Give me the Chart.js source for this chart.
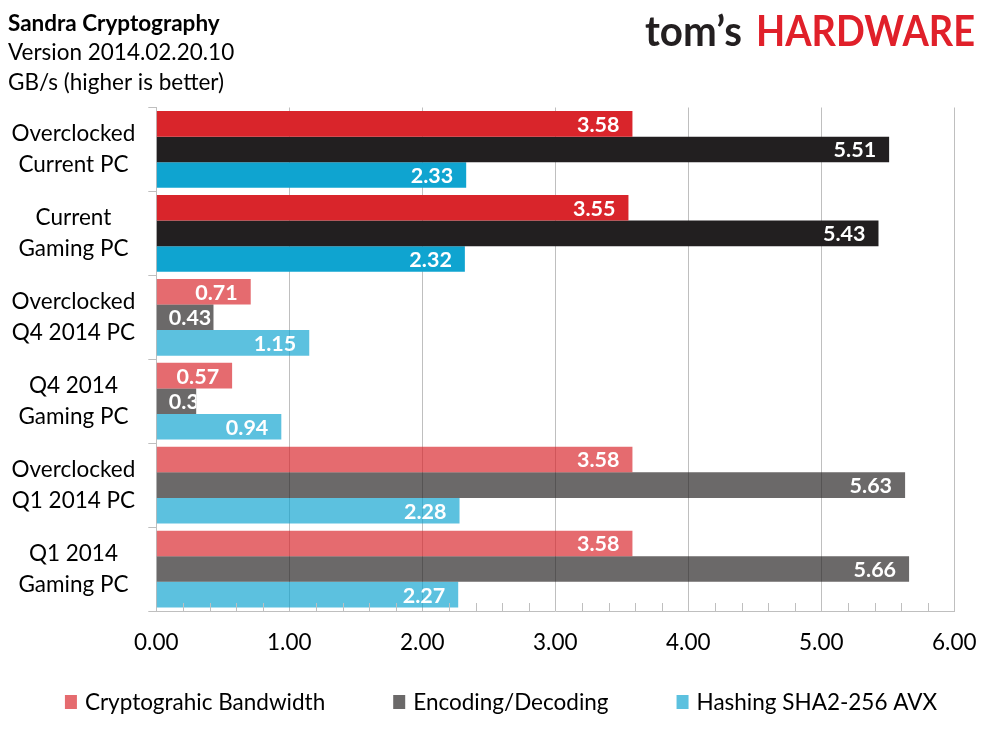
<!DOCTYPE html>
<html><head><meta charset="utf-8">
<script src="https://cdn.jsdelivr.net/npm/chart.js@4/dist/chart.umd.min.js"></script>
<style>html,body{margin:0;padding:0;background:#fff;overflow:hidden}#wrap{position:relative;width:989px;height:742px}</style>
</head><body><div id="wrap"><canvas id="c" width="989" height="742"></canvas></div>
<script>
const categories = [['Overclocked','Current PC'],['Current','Gaming PC'],['Overclocked','Q4 2014 PC'],['Q4 2014','Gaming PC'],['Overclocked','Q1 2014 PC'],['Q1 2014','Gaming PC']];
const seriesNames = ['Cryptograhic Bandwidth','Encoding/Decoding','Hashing SHA2-256 AVX'];
const cryptoBandwidth = [3.58, 3.55, 0.71, 0.57, 3.58, 3.58];
const encodingDecoding = [5.51, 5.43, 0.43, 0.3, 5.63, 5.66];
const hashingSha = [2.33, 2.32, 1.15, 0.94, 2.28, 2.27];
const xTicks = [0, 1, 2, 3, 4, 5, 6];
const titleLines = ['Sandra Cryptography', 'Version 2014.02.20.10', 'GB/s (higher is better)'];

const strongColors = ['#d9252b', '#221f20', '#0fa4d0'];
const lightColors = ['rgba(217,37,43,0.68)', 'rgba(34,31,32,0.67)', 'rgba(15,164,208,0.68)'];
const highlightedCount = 2;
const FONT = 'Lato';

function colorFor(si) {
  return ctx => (ctx.dataIndex !== undefined && ctx.dataIndex < highlightedCount) ? strongColors[si] : lightColors[si];
}

function fitText(ctx, txt, x, y, targetW) {
  const w = ctx.measureText(txt).width;
  ctx.save();
  ctx.translate(x, y);
  ctx.scale(targetW / w, 1);
  ctx.fillText(txt, 0, 0);
  ctx.restore();
}

const decorPlugin = {
  id: 'decor',
  afterDraw(chart) {
    const ctx = chart.ctx;
    const xs = chart.scales.x;
    const area = chart.chartArea;
    // minor ticks
    ctx.save();
    ctx.strokeStyle = '#bfbfbf';
    ctx.lineWidth = 1;
    for (let k = 0; k <= 30; k++) {
      if (k % 5 === 0) continue;
      const px = Math.round(xs.getPixelForValue(k * 0.2)) + 0.5;
      ctx.beginPath();
      ctx.moveTo(px, area.bottom);
      ctx.lineTo(px, area.bottom - 8);
      ctx.stroke();
    }
    ctx.restore();
    // data labels
    chart.data.datasets.forEach((ds, di) => {
      const meta = chart.getDatasetMeta(di);
      meta.data.forEach((bar, i) => {
        const p = bar.getProps(['x', 'y', 'base', 'height'], true);
        const txt = String(ds.data[i]);
        ctx.save();
        ctx.font = 'bold 21.5px ' + FONT;
        const w = ctx.measureText(txt).width;
        const left = Math.min(p.base, p.x), right = Math.max(p.base, p.x);
        const x = Math.max(left + 12, right - 13 - w);
        ctx.beginPath();
        ctx.rect(left, p.y - p.height / 2, right - left, p.height);
        ctx.clip();
        ctx.fillStyle = '#ffffff';
        ctx.textAlign = 'left';
        ctx.textBaseline = 'middle';
        ctx.fillText(txt, x, p.y + 1);
        ctx.restore();
      });
    });
    // legend
    ctx.save();
    ctx.font = '22.5px ' + FONT;
    ctx.textBaseline = 'middle';
    ctx.textAlign = 'left';
    const boxW = 12, boxH = 14, gapBox = 8, gapItem = 68, cy = 702;
    const widths = chart.data.datasets.map(d => ctx.measureText(d.label).width);
    const total = widths.reduce((a, w) => a + boxW + gapBox + w, 0) + gapItem * (widths.length - 1);
    let lx = 501 - total / 2;
    chart.data.datasets.forEach((d, i) => {
      ctx.fillStyle = lightColors[i];
      ctx.fillRect(lx, cy - boxH / 2, boxW, boxH);
      ctx.fillStyle = '#000';
      ctx.fillText(d.label, lx + boxW + gapBox, cy + 1);
      lx += boxW + gapBox + widths[i] + gapItem;
    });
    ctx.restore();
    // title
    ctx.save();
    ctx.fillStyle = '#000';
    ctx.textAlign = 'left';
    ctx.textBaseline = 'alphabetic';
    ctx.font = 'bold 22.5px ' + FONT;
    ctx.fillText(titleLines[0], 8, 31);
    ctx.font = '22.5px ' + FONT;
    ctx.fillText(titleLines[1], 8, 60);
    ctx.fillText(titleLines[2], 8, 90);
    // logo
    ctx.font = 'bold 42px ' + FONT;
    ctx.fillStyle = '#231f20';
    fitText(ctx, 'tom\u2019s', 645, 46, 97);
    ctx.fillStyle = '#e0202a';
    fitText(ctx, 'HARDWARE', 756, 46, 219);
    ctx.restore();
  }
};

new Chart(document.getElementById('c'), {
  type: 'bar',
  data: {
    labels: categories,
    datasets: [
      { label: seriesNames[0], data: cryptoBandwidth, backgroundColor: colorFor(0) },
      { label: seriesNames[1], data: encodingDecoding, backgroundColor: colorFor(1) },
      { label: seriesNames[2], data: hashingSha, backgroundColor: colorFor(2) }
    ]
  },
  options: {
    indexAxis: 'y',
    responsive: false,
    devicePixelRatio: 1,
    animation: false,
    categoryPercentage: 0.915,
    barPercentage: 1,
    layout: { padding: { top: 107.5, right: 34.7, bottom: 0, left: 0 } },
    plugins: {
      tooltip: { enabled: false },
      legend: { display: false }
    },
    scales: {
      x: {
        min: 0, max: 6,
        afterBuildTicks: s => { s.ticks = xTicks.map(v => ({ value: v })); },
        afterFit: s => { s.height = 131; s.paddingLeft = 0; s.paddingRight = 0; },
        ticks: { color: '#000', padding: 18.5, font: { family: FONT, size: 22.5 }, callback: v => Number(v).toFixed(2) },
        grid: { color: '#bfbfbf', drawTicks: false },
        border: { color: '#bfbfbf' }
      },
      y: {
        afterFit: s => { s.width = 156.3; },
        ticks: { color: '#000', padding: 13, crossAlign: 'center', font: { family: FONT, size: 22.5, lineHeight: 1.38 } },
        grid: { drawOnChartArea: false, offset: true, tickLength: 8, color: '#bfbfbf' },
        border: { color: '#bfbfbf' }
      }
    }
  },
  plugins: [decorPlugin]
});
</script></body></html>
